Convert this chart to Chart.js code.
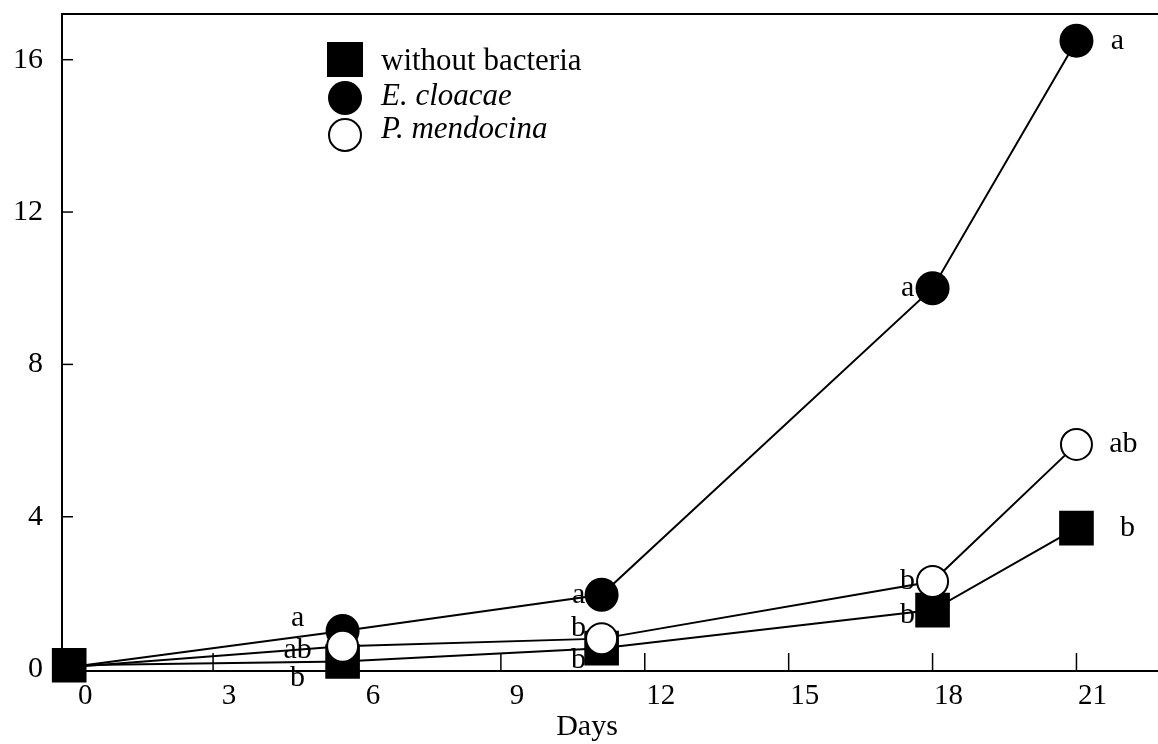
<!DOCTYPE html>
<html>
<head>
<meta charset="utf-8">
<script src="https://cdn.jsdelivr.net/npm/chart.js@4.4.1/dist/chart.umd.min.js"></script>
<style>
  html, body { margin: 0; padding: 0; background: #fff; }
  #wrap { width: 1158px; height: 744px; }
</style>
</head>
<body>
<div id="wrap"><canvas id="chart"></canvas></div>
<script>
// sampling days and the three series
const days = [0, 5.7, 11.1, 18, 21];
const withoutBacteria = [0.1, 0.2, 0.55, 1.55, 3.7];
const eCloacae = [0.05, 1.0, 1.95, 10.0, 16.5];
const pMendocina = [0.05, 0.6, 0.8, 2.3, 5.9];

// significance letters next to each point
const lettersWithout = ['', 'b', 'b', 'b', 'b'];
const lettersCloacae = ['', 'a', 'a', 'a', 'a'];
const lettersMendocina = ['', 'ab', 'b', 'b', 'ab'];

const xTicks = [0, 3, 6, 9, 12, 15, 18, 21];
const yTicks = [0, 4, 8, 12, 16];
const legendLabels = ['without bacteria', 'E. cloacae', 'P. mendocina'];
const xTitle = 'Days';

// pixel offsets of the letters from their point (style only)
const letterOffsets = {
    without: [[0, 0], [-45, 17], [-23, 12], [-25, 5], [51, 0]],
    cloacae: [[0, 0], [-45, -13], [-23, 0], [-25, 0], [41, 0]],
    mendocina: [[0, 0], [-45, 4], [-23, -11], [-25, 0], [47, 0]]
};

const FONT = '"Liberation Serif", "Times New Roman", serif';

function toPoints(ys) {
    return days.map((d, i) => ({ x: d, y: ys[i] }));
}

// no extra room for edge labels, the plot box is fixed
function fixPadding(scale) {
    scale.paddingLeft = 0;
    scale.paddingRight = 0;
    scale.paddingTop = 0;
    scale.paddingBottom = 0;
}

const extras = {
    id: 'extras',
    afterDraw(chart) {
        const ctx = chart.ctx;
        const area = chart.chartArea;
        const xs = chart.scales.x;
        const ys = chart.scales.y;
        ctx.save();
        ctx.strokeStyle = '#000';

        // top frame line
        ctx.lineWidth = 2;
        ctx.beginPath();
        ctx.moveTo(area.left, area.top);
        ctx.lineTo(area.right, area.top);
        ctx.stroke();

        // inward tick marks
        ctx.lineWidth = 1.5;
        xTicks.forEach(v => {
            const px = xs.getPixelForValue(v);
            ctx.beginPath();
            ctx.moveTo(px, area.bottom);
            ctx.lineTo(px, area.bottom - 18);
            ctx.stroke();
        });
        yTicks.forEach(v => {
            const py = ys.getPixelForValue(v);
            ctx.beginPath();
            ctx.moveTo(area.left, py);
            ctx.lineTo(area.left + 11, py);
            ctx.stroke();
        });

        // letters
        ctx.fillStyle = '#000';
        ctx.font = '30px ' + FONT;
        ctx.textAlign = 'center';
        ctx.textBaseline = 'middle';
        const groups = [
            [withoutBacteria, lettersWithout, letterOffsets.without],
            [eCloacae, lettersCloacae, letterOffsets.cloacae],
            [pMendocina, lettersMendocina, letterOffsets.mendocina]
        ];
        groups.forEach(([vals, letters, offs]) => {
            vals.forEach((v, i) => {
                if (!letters[i]) return;
                const px = xs.getPixelForValue(days[i]) + offs[i][0];
                const py = ys.getPixelForValue(v) + offs[i][1];
                ctx.fillText(letters[i], px, py);
            });
        });

        // axis title, sits a bit left of the axis centre in the original
        ctx.fillText(xTitle, 587, 727);

        // legend inside the plot
        const lx = 345, rows = [59, 98, 135];
        ctx.fillRect(lx - 18, rows[0] - 17, 36, 35);
        ctx.beginPath();
        ctx.arc(lx, rows[1], 17, 0, Math.PI * 2);
        ctx.fill();
        ctx.beginPath();
        ctx.arc(lx, rows[2], 16, 0, Math.PI * 2);
        ctx.fillStyle = '#fff';
        ctx.fill();
        ctx.lineWidth = 2;
        ctx.stroke();
        ctx.fillStyle = '#000';
        ctx.textAlign = 'left';
        ctx.font = '31px ' + FONT;
        ctx.fillText(legendLabels[0], 381, rows[0] + 3);
        ctx.font = 'italic 31px ' + FONT;
        ctx.fillText(legendLabels[1], 381, rows[1] - 1);
        ctx.fillText(legendLabels[2], 381, rows[2] - 5);
        ctx.restore();
    }
};

function drawChart() {
    const ctx = document.getElementById('chart').getContext('2d');
    new Chart(ctx, {
        type: 'line',
        data: {
            datasets: [
                {
                    label: legendLabels[2],
                    data: toPoints(pMendocina),
                    borderColor: '#000',
                    borderWidth: 2,
                    pointStyle: 'circle',
                    pointRadius: [0, 15.5, 15.5, 15.5, 15.5],
                    pointBackgroundColor: '#fff',
                    pointBorderColor: '#000',
                    pointBorderWidth: 2,
                    clip: false,
                    order: 0
                },
                {
                    label: legendLabels[0],
                    data: toPoints(withoutBacteria),
                    borderColor: '#000',
                    borderWidth: 2,
                    pointStyle: 'rect',
                    pointRadius: 24.5,
                    pointBackgroundColor: '#000',
                    pointBorderColor: '#000',
                    pointBorderWidth: 0,
                    clip: false,
                    order: 1
                },
                {
                    label: legendLabels[1],
                    data: toPoints(eCloacae),
                    borderColor: '#000',
                    borderWidth: 2,
                    pointStyle: 'circle',
                    pointRadius: [0, 17, 17, 17, 17],
                    pointBackgroundColor: '#000',
                    pointBorderColor: '#000',
                    pointBorderWidth: 0,
                    clip: false,
                    order: 2
                }
            ]
        },
        options: {
            responsive: true,
            maintainAspectRatio: false,
            animation: false,
            layout: { autoPadding: false, padding: { top: 14, right: 0, left: 0, bottom: 0 } },
            plugins: { legend: { display: false }, tooltip: { enabled: false } },
            scales: {
                x: {
                    type: 'linear',
                    min: -0.15,
                    max: 22.7,
                    afterBuildTicks: scale => { scale.ticks = xTicks.map(v => ({ value: v })); },
                    afterFit: scale => { scale.height = 73; fixPadding(scale); },
                    grid: { display: false, drawTicks: false },
                    border: { display: true, color: '#000', width: 2 },
                    ticks: {
                        color: '#000',
                        font: { family: FONT, size: 29 },
                        padding: 8,
                        labelOffset: 16,
                        maxRotation: 0,
                        autoSkip: false
                    },
                    title: { display: false }
                },
                y: {
                    type: 'linear',
                    min: -0.05,
                    max: 17.2,
                    afterBuildTicks: scale => { scale.ticks = yTicks.map(v => ({ value: v })); },
                    afterFit: scale => { scale.width = 62; fixPadding(scale); },
                    grid: { display: false, drawTicks: false },
                    border: { display: true, color: '#000', width: 2 },
                    ticks: {
                        color: '#000',
                        font: { family: FONT, size: 30 },
                        padding: 19
                    }
                }
            }
        },
        plugins: [extras]
    });
}

document.addEventListener("DOMContentLoaded", drawChart);
</script>
</body>
</html>
